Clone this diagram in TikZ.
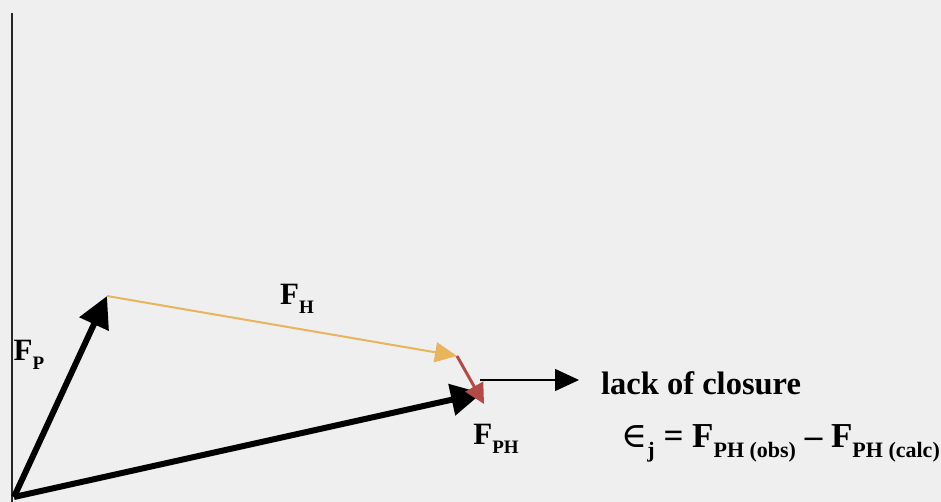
\documentclass[tikz,border=0pt]{standalone}
\usepackage{fontspec}
\setmainfont{Liberation Serif}
\newfontfamily\symfnt{DejaVu Serif}
\usetikzlibrary{arrows.meta}
\newcommand\lowsub[1]{\raisebox{-0.3em}{\fontsize{19}{20}\selectfont #1}}
\newcommand\biglowsub[1]{\raisebox{-0.3em}{\fontsize{22}{24}\selectfont #1}}
\definecolor{bgc}{HTML}{EFEFEF}
\definecolor{fhc}{HTML}{E8B45C}
\definecolor{redc}{HTML}{B24A46}
\tikzset{
  lbl/.style={font=\fontsize{31}{34}\selectfont\bfseries, inner sep=0pt},
  biglbl/.style={font=\fontsize{35}{38}\selectfont\bfseries, inner sep=0pt},
  thickvec/.style={line width=6pt, -{Triangle[length=31pt,width=31pt]}},
  fhvec/.style={fhc, line width=2pt, -{Triangle[length=22pt,width=20pt]}},
  redvec/.style={redc, line width=3pt, -{Triangle[length=20pt,width=20pt]}},
  thinarrow/.style={line width=1.3pt, -{Triangle[length=24pt,width=22pt]}}
}
\begin{document}
\begin{tikzpicture}[x=1pt,y=-1pt]
\fill[bgc] (0,0) rectangle (941,502);
\useasboundingbox (0,0) rectangle (941,502);
\coordinate (top) at (12,13);
\coordinate (bot) at (12,502);
\draw[line width=1.5pt, black!85] (top) -- (bot);
\coordinate (O) at (14,497);
\coordinate (P) at (107,296);
\coordinate (H) at (457,356);
\coordinate (PH) at (482,393);
\coordinate (R) at (484,404);
\coordinate (lcs) at (480,380);
\draw[thickvec] (O) -- (P);
\draw[thickvec] (O) -- (PH);
\draw[fhvec] (P) -- (H);
\draw[redvec] (H) -- (R);
\node[lbl, font=\fontsize{32.5}{34}\selectfont\bfseries, anchor=base west] (lack) at (601,394) {lack of closure};
\coordinate (lce) at (579,380);
\draw[thinarrow] (lcs) -- (lce);
\node[lbl] (fh) at (297,299) {F\lowsub{H}};
\node[lbl] (fp) at (29,355) {F\lowsub{P}};
\node[lbl] (fph) at (496,439) {F\lowsub{PH}};
\node[biglbl, anchor=base east] (eps) at (940,447) {{\symfnt\mdseries ∈}\biglowsub{j} = F\biglowsub{PH (obs)} – F\biglowsub{PH (calc)}};
\end{tikzpicture}
\end{document}
